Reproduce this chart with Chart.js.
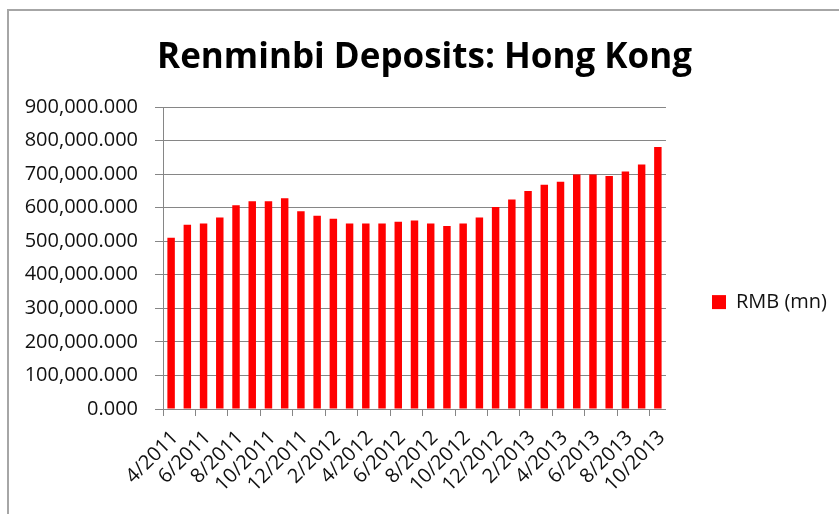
<!DOCTYPE html>
<html lang="en">
<head>
    <meta charset="utf-8">
    <title>Renminbi Deposits: Hong Kong</title>
    <script src="https://cdn.jsdelivr.net/npm/chart.js"></script>
    <style>
        body { margin: 0; background: #fff; }
        .frame { position: relative; width: 839px; height: 514px; overflow: hidden; }
        .border { position: absolute; left: 7px; top: 9px; width: 900px; height: 600px;
                  border-top: 2px solid #a6a6a6; border-left: 2px solid #a6a6a6; }
        #chart { position: absolute; left: 0; top: 0; }
    </style>
</head>
<body>
<div class="frame">
    <div class="border"></div>
    <canvas id="chart" width="839" height="514"></canvas>
</div>

<script>
    // monthly data, 4/2011 .. 10/2013
    const months = [
        '4/2011', '5/2011', '6/2011', '7/2011', '8/2011', '9/2011', '10/2011', '11/2011', '12/2011',
        '1/2012', '2/2012', '3/2012', '4/2012', '5/2012', '6/2012', '7/2012', '8/2012', '9/2012',
        '10/2012', '11/2012', '12/2012', '1/2013', '2/2013', '3/2013', '4/2013', '5/2013', '6/2013',
        '7/2013', '8/2013', '9/2013', '10/2013'
    ];
    const rmbDeposits = [
        510000, 549000, 553000, 571000, 607000, 619000, 619000, 628000, 589000,
        576000, 567000, 553000, 553000, 553000, 558000, 562000, 553000, 545000,
        553000, 571000, 602000, 624000, 650000, 668000, 677000, 699000, 699000,
        694000, 708000, 729000, 781000
    ];
    const yTicks = [0, 100000, 200000, 300000, 400000, 500000, 600000, 700000, 800000, 900000];

    const gridGray = '#868686';
    const textColor = '#111';
    const font = 'Open Sans';

    const ctx = document.getElementById('chart').getContext('2d');
    const chart = new Chart(ctx, {
        type: 'bar',
        data: {
            labels: months,
            datasets: [{
                label: 'RMB (mn)',
                data: rmbDeposits,
                backgroundColor: '#ff0000',
                borderWidth: 0,
                barPercentage: 0.46,
                categoryPercentage: 1.0
            }]
        },
        options: {
            responsive: false,
            animation: false,
            layout: { padding: { top: 0, left: 12, right: 2, bottom: 0 } },
            plugins: {
                tooltip: { enabled: false },
                title: {
                    display: true,
                    text: 'Renminbi Deposits: Hong Kong',
                    color: '#000',
                    font: { family: font, size: 35, weight: 'bold' },
                    padding: { top: 37, bottom: 28 }
                },
                legend: {
                    position: 'right',
                    onClick: null,
                    // empty title only pushes the entry down to where Excel put it
                    title: { display: true, text: ' ', font: { size: 1 }, padding: { top: 89, bottom: 0 } },
                    labels: {
                        boxWidth: 14,
                        boxHeight: 14,
                        padding: 46,
                        color: textColor,
                        font: { family: font, size: 20 }
                    }
                }
            },
            scales: {
                x: {
                    afterFit: s => { s.height = 105; },
                    grid: {
                        offset: true,
                        drawOnChartArea: false,
                        drawTicks: true,
                        tickLength: 7,
                        color: c => (c.index !== undefined && c.index % 2 === 0) ? gridGray : 'transparent'
                    },
                    border: { display: true, color: gridGray },
                    ticks: {
                        autoSkip: false,
                        maxRotation: 45,
                        minRotation: 45,
                        padding: 10,
                        labelOffset: 4,
                        color: textColor,
                        font: { family: font, size: 20 },
                        callback: (v, i) => i % 2 === 0 ? months[i] : ''
                    }
                },
                y: {
                    min: 0,
                    max: 900000,
                    afterFit: s => { s.width = 151; },
                    afterBuildTicks: s => { s.ticks = yTicks.map(v => ({ value: v })); },
                    grid: { color: gridGray, tickLength: 8 },
                    border: { display: true, color: gridGray },
                    ticks: {
                        padding: 17,
                        color: textColor,
                        font: { family: font, size: 20 },
                        callback: v => v.toLocaleString('en-US', { minimumFractionDigits: 3, maximumFractionDigits: 3 })
                    }
                }
            }
        }
    });
</script>
</body>
</html>
